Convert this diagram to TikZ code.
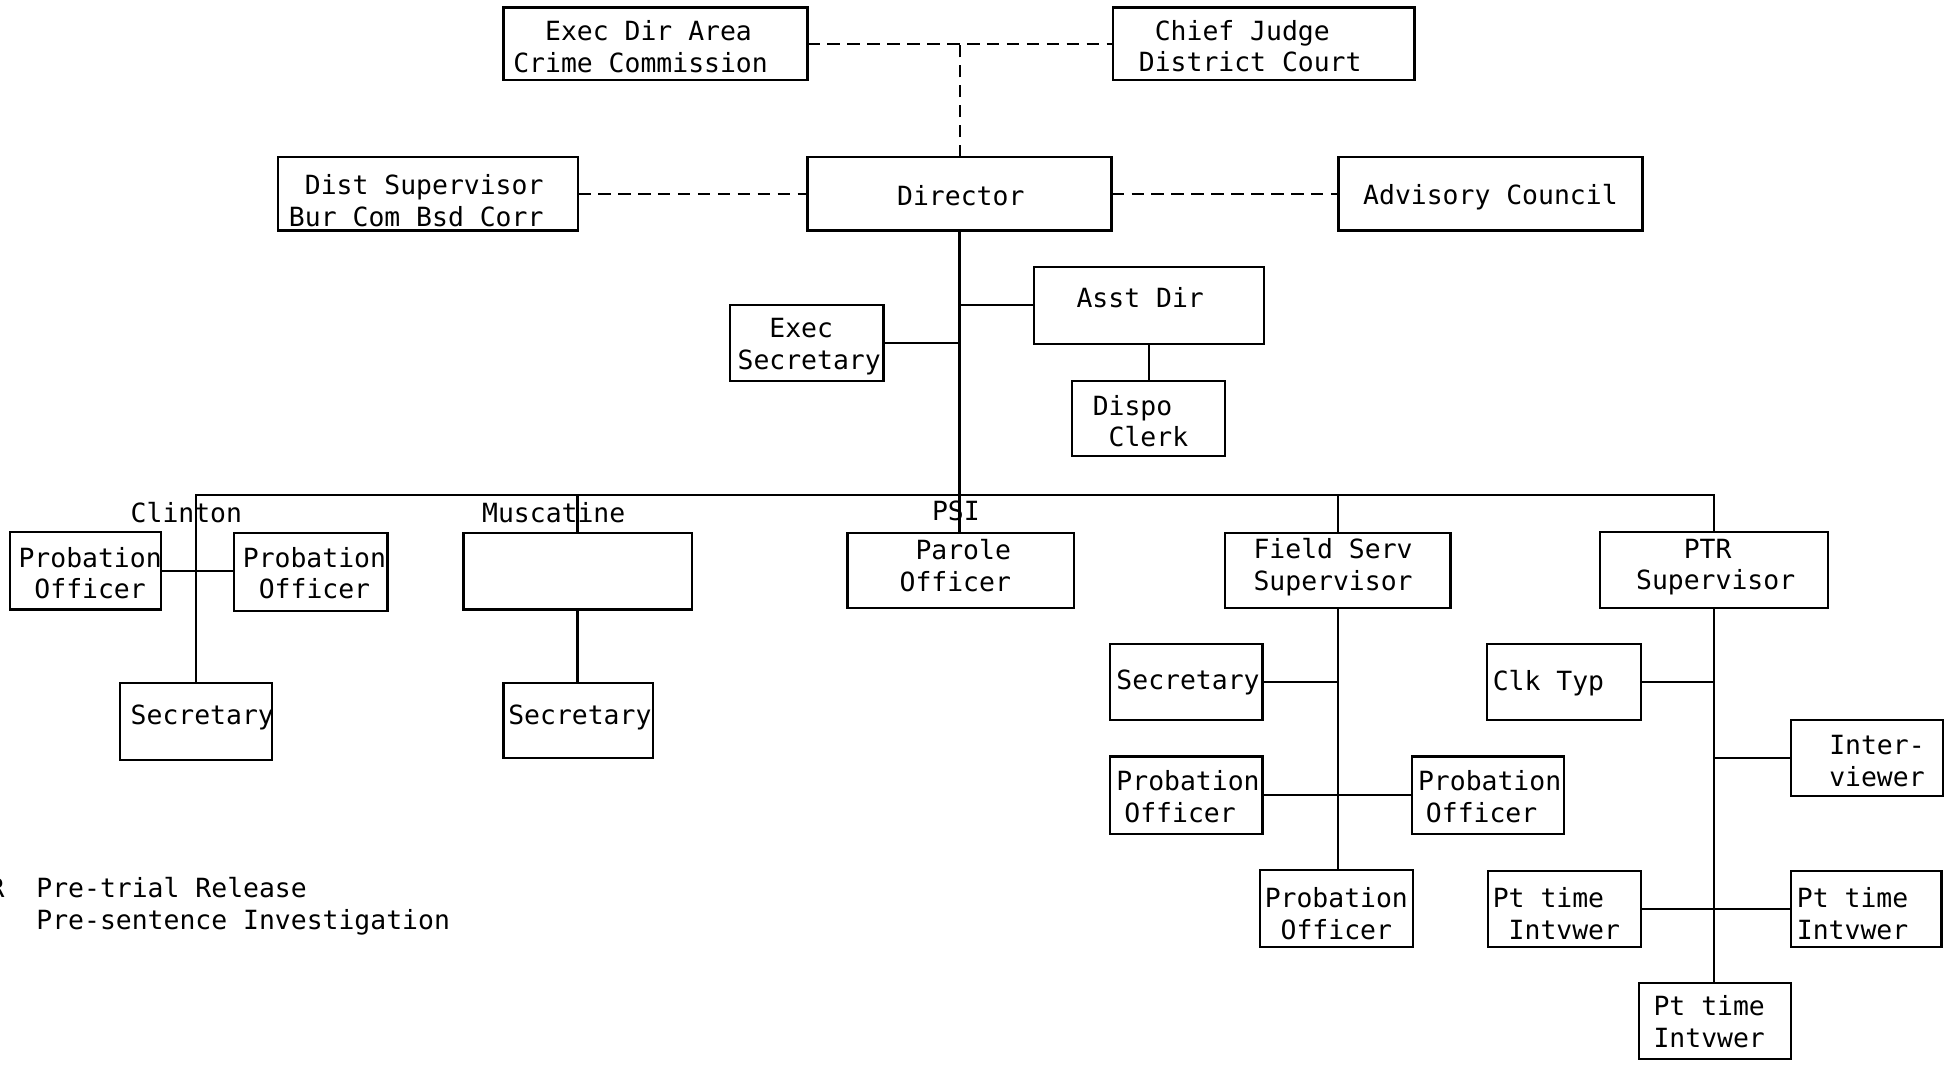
\documentclass[tikz,border=0pt]{standalone}
\usepackage{fontspec}
\setmainfont{DejaVu Sans Mono}
\begin{document}
\begin{tikzpicture}[x=1pt,y=-1pt,
  line width=1.8pt,
  box/.style args={#1/#2}{draw, rectangle, inner sep=0pt, outer sep=0pt,
      minimum width=#1pt, minimum height=#2pt},
  txt/.style={inner sep=0pt, anchor=west, align=left,
      font=\fontsize{21.2}{25.5}\selectfont},
  rel/.style={line width=1.6pt, dash pattern=on 10pt off 6pt}]

% page
\fill[white] (0,0) rectangle (1568,854);
\useasboundingbox (0,0) rectangle (1568,854);

% --- top level ---
\node[box=244/58] (execdir) at (526,35) {};
\node[txt] (execdirT) at (411,37.5) {\phantom{xx}Exec Dir Area\\Crime Commission};
\node[box=242/58] (chief) at (1014,35) {};
\node[txt] (chiefT) at (913,37) {\phantom{x}Chief Judge\\District Court};

\node[box=241/59] (dist) at (343.5,155.5) {};
\node[txt] (distT) at (231,161) {\phantom{x}Dist Supervisor\\Bur Com Bsd Corr};
\node[box=244/59] (director) at (770,155.5) {};
\node[txt, anchor=center] (directorT) at (771,157) {Director};
\node[box=244/59] (advisory) at (1196,155.5) {};
\node[txt, anchor=center] (advisoryT) at (1196,158) {Advisory Council};

% --- staff ---
\node[box=184/62] (asst) at (922,245) {};
\node[txt] (asstT) at (863,239) {Asst Dir};
\node[box=123/61] (execsec) at (647.5,275.5) {};
\node[txt] (execsecT) at (591,278) {\phantom{xx}Exec\\Secretary};
\node[box=123/60] (dispo) at (921.5,336) {};
\node[txt] (dispoT) at (876,338) {Dispo\\\phantom{x}Clerk};

% --- Clinton ---
\node[txt] (clintonL) at (104,411) {Clinton};
\node[box=121/62] (cpo1) at (68.5,458) {};
\node[txt] (cpo1T) at (14,460) {Probation\\\phantom{x}Officer};
\node[box=123/62] (cpo2) at (249.5,459) {};
\node[txt] (cpo2T) at (194,460) {Probation\\\phantom{x}Officer};
\node[box=122/62] (csec) at (157,579) {};
\node[txt] (csecT) at (104,576) {Secretary};

% --- Muscatine ---
\node[txt] (muscL) at (386,411) {Muscatine};
\node[box=183/61] (mbox) at (463.5,458.5) {};
\node[box=120/60] (msec) at (464,578) {};
\node[txt] (msecT) at (407,576) {Secretary};

% --- PSI ---
\node[txt] (psiL) at (747,410) {PSI};
\node[box=182/60] (parole) at (771,458) {};
\node[txt] (paroleT) at (721,454) {\phantom{x}Parole\\Officer};

% --- Field services ---
\node[box=181/60] (field) at (1073.5,458) {};
\node[txt] (fieldT) at (1005,455) {Field Serv\\Supervisor};
\node[box=122/61] (fsec) at (952,547.5) {};
\node[txt] (fsecT) at (895,548) {Secretary};
\node[box=122/62] (fpo1) at (952,638) {};
\node[txt] (fpo1T) at (895,639) {Probation\\\hspace*{0.3em}Officer};
\node[box=122/62] (fpo2) at (1194,638) {};
\node[txt] (fpo2T) at (1137,639) {Probation\\\hspace*{0.3em}Officer};
\node[box=123/62] (fpo3) at (1072.5,729) {};
\node[txt] (fpo3T) at (1014,733) {Probation\\\phantom{x}Officer};

% --- Pre-trial release ---
\node[box=183/61] (ptr) at (1375.5,457.5) {};
\node[txt] (ptrT) at (1312,455) {\phantom{xxx}PTR\\Supervisor};
\node[box=124/61] (clk) at (1255,547.5) {};
\node[txt] (clkT) at (1197,548) {Clk Typ};
\node[box=122/61] (inter) at (1498,608.5) {};
\node[txt] (interT) at (1467,611) {Inter-\\viewer};
\node[box=123/61] (pt1) at (1255.5,729.5) {};
\node[txt] (pt1T) at (1197,733) {Pt time\\\phantom{x}Intvwer};
\node[box=121/61] (pt2) at (1497.5,729.5) {};
\node[txt] (pt2T) at (1441,733) {Pt time\\Intvwer};
\node[box=122/61] (pt3) at (1376,819.5) {};
\node[txt] (pt3T) at (1326,820) {Pt time\\Intvwer};

% --- key (runs off the left edge of the sheet) ---
\node[txt] (key) at (-35.5,727) {PTR\phantom{xx}Pre-trial Release\\\phantom{PSIxx}Pre-sentence Investigation};

% --- advisory / reporting relations (dashed) ---
\draw[rel] (execdir.east) -- (chief.west);
\draw[rel] (director.north) -- (director.north |- execdir.east);
\draw[rel] (dist.east) -- (director.west);
\draw[rel] (director.east) -- (advisory.west);

% --- line authority ---
\coordinate (busL) at (157,397);
\draw (director.south) -- (director.south |- parole.north);
\draw (asst.west) -- (asst.west -| director.south);
\draw (execsec.east) -- (execsec.east -| director.south);
\draw (asst.south) -- (asst.south |- dispo.north);

\draw (busL |- csec.north) -- (busL) -- (busL -| ptr.north) -- (ptr.north);
\draw (cpo1.east) -- (cpo1.east -| cpo2.west);
\draw (mbox.north |- busL) -- (mbox.north);
\draw (mbox.south) -- (mbox.south |- msec.north);
\draw (field.north |- busL) -- (field.north);

\draw (field.south) -- (field.south |- fpo3.north);
\draw (fsec.east) -- (fsec.east -| field.south);
\draw (fpo1.east) -- (fpo2.west);

\draw (ptr.south) -- (ptr.south |- pt3.north);
\draw (clk.east) -- (clk.east -| ptr.south);
\draw (inter.west) -- (inter.west -| ptr.south);
\draw (pt1.east) -- (pt2.west);
\end{tikzpicture}
\end{document}
